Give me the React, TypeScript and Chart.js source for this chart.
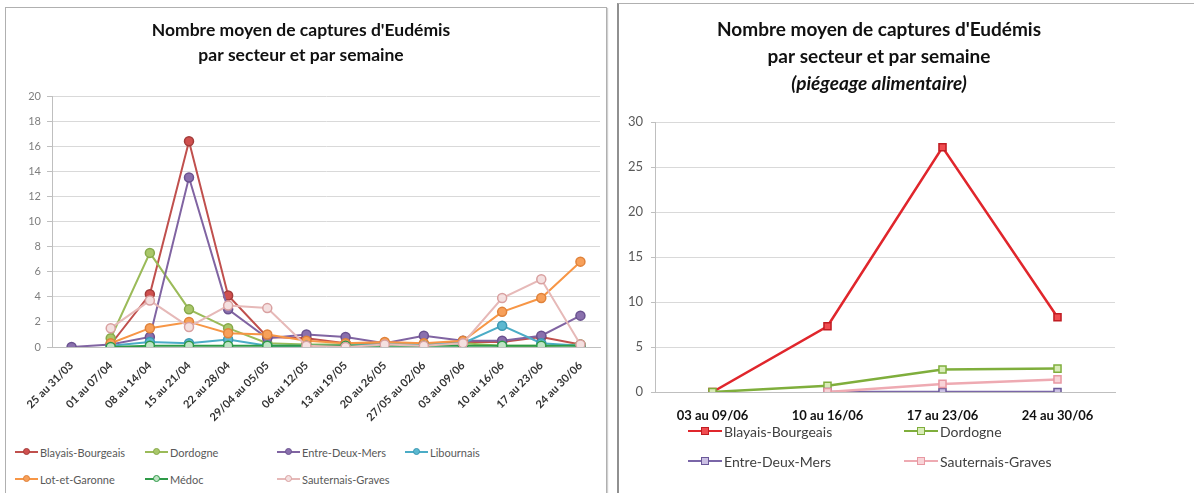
import React, { useEffect, useRef } from "react";
import { Chart, registerables } from "chart.js";
Chart.register(...registerables);

// ---------- Left chart data ----------
const weeksA = [
  "25 au 31/03", "01 au 07/04", "08 au 14/04", "15 au 21/04", "22 au 28/04",
  "29/04 au 05/05", "06 au 12/05", "13 au 19/05", "20 au 26/05", "27/05 au 02/06",
  "03 au 09/06", "10 au 16/06", "17 au 23/06", "24 au 30/06",
];
const blayaisA = [null, 0.2, 4.2, 16.4, 4.1, 0.8, 0.7, 0.3, 0.2, 0.2, 0.4, 0.4, 0.8, 0.2];
const dordogneA = [null, 0.7, 7.5, 3.0, 1.5, 0.3, 0.2, 0.2, 0.2, 0.2, 0.3, 0.1, 0.1, 0.2];
const entreA = [0, 0.2, 0.8, 13.5, 3.0, 0.7, 1.0, 0.8, 0.3, 0.9, 0.5, 0.5, 0.9, 2.5];
const libournaisA = [null, 0.1, 0.4, 0.3, 0.6, 0.1, 0.1, 0.1, 0.2, 0.2, 0.3, 1.7, 0.3, 0.1];
const lotA = [null, 0.3, 1.5, 2.0, 1.1, 1.0, 0.5, 0.3, 0.4, 0.3, 0.5, 2.8, 3.9, 6.8];
const medocA = [null, 0, 0.1, 0.1, 0.1, 0.1, 0.1, 0.1, 0.1, 0.1, 0.1, 0.1, 0.1, 0.1];
const sauternaisA = [null, 1.5, 3.7, 1.6, 3.3, 3.1, 0.1, 0.0, 0.2, 0.1, 0.3, 3.9, 5.4, 0.2];
const yTicksA = { min: 0, max: 20, step: 2 };

// ---------- Right chart data ----------
const weeksB = ["03 au 09/06", "10 au 16/06", "17 au 23/06", "24 au 30/06"];
const blayaisB = [0, 7.3, 27.2, 8.3];
const dordogneB = [0, 0.7, 2.5, 2.6];
const entreB = [null, 0, 0, 0];
const sauternaisB = [null, 0, 0.9, 1.4];
const yTicksB = { min: 0, max: 30, step: 5 };

const titleLines = ["Nombre moyen de captures d'Eudémis", "par secteur et par semaine"];
const subtitleB = "(piégeage alimentaire)";

const FONT = "Lato, 'Open Sans', sans-serif";

const seriesA = [
  { name: "Blayais-Bourgeais", data: blayaisA, line: "#c0504d", fill: "#d0504f", edge: "#a33c3a" },
  { name: "Dordogne", data: dordogneA, line: "#9bbb59", fill: "#a9c76a", edge: "#87a94a" },
  { name: "Entre-Deux-Mers", data: entreA, line: "#8064a2", fill: "#8a70ad", edge: "#6a5290" },
  { name: "Libournais", data: libournaisA, line: "#4bacc6", fill: "#5cb8d0", edge: "#3a98b2" },
  { name: "Lot-et-Garonne", data: lotA, line: "#f79646", fill: "#f7a05a", edge: "#e0823a" },
  { name: "Médoc", data: medocA, line: "#2e9a48", fill: "#bfe3c4", edge: "#2e9a48" },
  { name: "Sauternais-Graves", data: sauternaisA, line: "#e6b9b8", fill: "#f4e0e0", edge: "#d9a0a0" },
];

const seriesB = [
  { name: "Blayais-Bourgeais", data: blayaisB, line: "#e0262c", fill: "#f04c50", edge: "#c01c22" },
  { name: "Dordogne", data: dordogneB, line: "#7fae3c", fill: "#d9ecb8", edge: "#7fae3c" },
  { name: "Entre-Deux-Mers", data: entreB, line: "#7a66a8", fill: "#cbc0e4", edge: "#6a5898" },
  { name: "Sauternais-Graves", data: sauternaisB, line: "#eeaab2", fill: "#f8d4d8", edge: "#e898a2" },
];

function LeftChart() {
  const ref = useRef<HTMLCanvasElement | null>(null);
  useEffect(() => {
    if (!ref.current) return;
    const n = seriesA.length;
    const chart = new Chart(ref.current, {
      type: "line",
      data: {
        labels: weeksA,
        datasets: seriesA.map((s, i) => ({
          label: s.name,
          data: s.data,
          borderColor: s.line,
          backgroundColor: s.fill,
          pointBackgroundColor: s.fill,
          pointBorderColor: s.edge,
          borderWidth: 2,
          pointRadius: 4.5,
          pointBorderWidth: 1.5,
          tension: 0,
          order: n - i,
        })),
      },
      options: {
        animation: false,
        responsive: false,
        layout: { padding: { left: 0, right: 4, top: 0, bottom: 0 } },
        plugins: {
          legend: { display: false },
          tooltip: { enabled: false },
          title: {
            display: true,
            text: titleLines,
            color: "#111",
            font: { family: FONT, size: 17.5, weight: "bold", lineHeight: "25px" },
            padding: { top: 17.5, bottom: 28.5 },
          },
        },
        scales: {
          x: {
            offset: true,
            grid: { display: false },
            border: { display: true, color: "#bfbfbf" },
            ticks: {
              autoSkip: false,
              minRotation: 45,
              maxRotation: 45,
              color: "#333",
              padding: 4,
              font: { family: FONT, size: 11, weight: "bold" },
            },
            afterFit: (s: any) => { s.height = 93; },
          },
          y: {
            min: yTicksA.min,
            max: yTicksA.max,
            ticks: { stepSize: yTicksA.step, color: "#7f7f7f", padding: 6, font: { family: FONT, size: 11 } },
            grid: { color: "#d9d9d9", tickLength: 5, tickColor: "#bfbfbf" },
            border: { display: true, color: "#bfbfbf" },
            afterFit: (s: any) => { s.width = 52; },
          },
        },
      },
    } as any);
    return () => chart.destroy();
  }, []);
  return <canvas ref={ref} width={606} height={440} style={{ position: "absolute", left: 0, top: 0 }} />;
}

function RightChart() {
  const ref = useRef<HTMLCanvasElement | null>(null);
  useEffect(() => {
    if (!ref.current) return;
    const n = seriesB.length;
    const chart = new Chart(ref.current, {
      type: "line",
      data: {
        labels: weeksB,
        datasets: seriesB.map((s, i) => ({
          label: s.name,
          data: s.data,
          borderColor: s.line,
          backgroundColor: s.fill,
          pointBackgroundColor: s.fill,
          pointBorderColor: s.edge,
          pointStyle: "rect",
          borderWidth: 2.5,
          pointRadius: 5,
          pointBorderWidth: 1.5,
          tension: 0,
          order: n - i,
        })),
      },
      options: {
        animation: false,
        responsive: false,
        layout: { padding: { left: 0, right: 53, top: 0, bottom: 0 } },
        plugins: {
          legend: { display: false },
          tooltip: { enabled: false },
          title: {
            display: true,
            text: titleLines,
            color: "#111",
            font: { family: FONT, size: 19, weight: "bold", lineHeight: "27px" },
            padding: { top: 13, bottom: 0 },
          },
          subtitle: {
            display: true,
            text: subtitleB,
            color: "#111",
            font: { family: FONT, size: 19, weight: "bold", style: "italic", lineHeight: "27px" },
            padding: { top: 0, bottom: 25 },
          },
        },
        scales: {
          x: {
            offset: true,
            grid: { display: false },
            border: { display: true, color: "#bfbfbf" },
            ticks: {
              autoSkip: false,
              maxRotation: 0,
              color: "#111",
              padding: 8,
              font: { family: FONT, size: 13, weight: "bold" },
            },
            afterFit: (s: any) => { s.height = 31; },
          },
          y: {
            min: yTicksB.min,
            max: yTicksB.max,
            ticks: { stepSize: yTicksB.step, color: "#595959", padding: 8, font: { family: FONT, size: 13 } },
            grid: { color: "#d9d9d9", tickLength: 4, tickColor: "#bfbfbf" },
            border: { display: true, color: "#bfbfbf" },
            afterFit: (s: any) => { s.width = 38; },
          },
          y2: {
            position: "right",
            display: true,
            ticks: { display: false },
            grid: { display: false, drawTicks: false },
            border: { display: false },
            afterFit: (s: any) => { s.width = 26; },
          },
        },
      },
    } as any);
    return () => chart.destroy();
  }, []);
  return <canvas ref={ref} width={577} height={420} style={{ position: "absolute", left: 0, top: 0 }} />;
}

function LegendItem(props: {
  x: number; y: number; name: string; line: string; fill: string; edge: string;
  square?: boolean; size: number; iconW: number; gap: number; color: string;
}) {
  const m = props.square ? 9 : 8;
  return (
    <div style={{ position: "absolute", left: props.x, top: props.y - 10, height: 20, display: "flex", alignItems: "center", whiteSpace: "nowrap" }}>
      <div style={{ position: "relative", width: props.iconW, height: 20 }}>
        <div style={{ position: "absolute", left: 0, right: 0, top: 9, height: 2, background: props.line }} />
        <div style={{
          position: "absolute", left: props.iconW / 2 - m / 2, top: 10 - m / 2, width: m - 3, height: m - 3,
          background: props.fill, border: `1.5px solid ${props.edge}`, borderRadius: props.square ? 0 : "50%",
        }} />
      </div>
      <span style={{ marginLeft: props.gap, fontFamily: FONT, fontSize: props.size, color: props.color }}>{props.name}</span>
    </div>
  );
}

const legendPosA = [
  [15, 452], [145, 452], [277, 452], [405, 452],
  [15, 479], [145, 479], [277, 479],
];
const legendPosB = [
  [688, 431], [904, 431], [688, 461], [904, 461],
];

export default function App() {
  useEffect(() => {
    document.body.style.margin = "0";
  }, []);
  return (
    <div style={{ position: "fixed", left: 0, top: 0, width: 1194, height: 493, background: "#fff", overflow: "hidden" }}>
      {/* Left panel */}
      <div style={{ position: "absolute", left: 5, top: 7, width: 600, height: 490, border: "1px solid #b0b0b0", boxShadow: "1px 1px 1px #d0d0d0" }} />
      <div style={{ position: "absolute", left: 0, top: 0, width: 606, height: 493 }}>
        <LeftChart />
        {seriesA.map((s, i) => (
          <LegendItem key={s.name} x={legendPosA[i][0]} y={legendPosA[i][1]} name={s.name}
            line={s.line} fill={s.fill} edge={s.edge} size={11} iconW={23} gap={2} color="#595959" />
        ))}
      </div>
      {/* Right panel */}
      <div style={{ position: "absolute", left: 617, top: 3, width: 590, height: 500, borderLeft: "2px solid #909090", borderTop: "1px solid #b0b0b0" }} />
      <div style={{ position: "absolute", left: 617, top: 3, width: 577, height: 490 }}>
        <RightChart />
      </div>
      {seriesB.map((s, i) => (
        <LegendItem key={s.name} x={legendPosB[i][0]} y={legendPosB[i][1]} name={s.name}
          line={s.line} fill={s.fill} edge={s.edge} square size={14} iconW={34} gap={2} color="#404040" />
      ))}
    </div>
  );
}
